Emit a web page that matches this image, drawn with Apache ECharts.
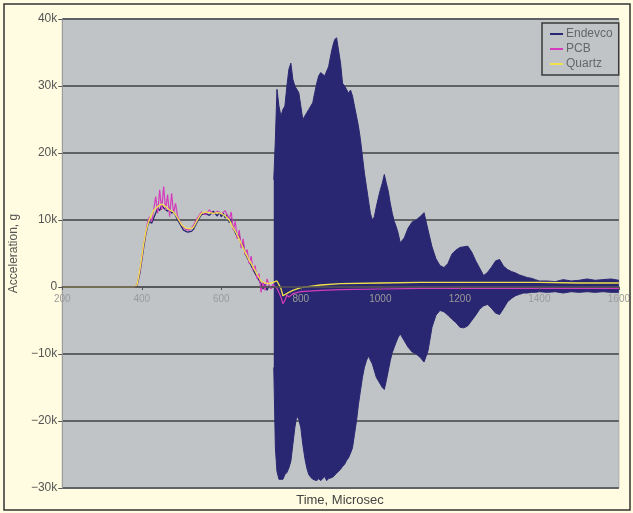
<!DOCTYPE html>
<html>
<head>
<meta charset="utf-8">
<script src="https://cdn.jsdelivr.net/npm/echarts@6/dist/echarts.min.js"></script>
<style>
html,body{margin:0;padding:0;background:#ffffff;}
#chart{width:633px;height:513px;}
</style>
</head>
<body>
<div id="chart"></div>
<script>
// ---- data ----
const xTicks = [200, 400, 600, 800, 1000, 1200, 1400, 1600];
const yTickLabels = {'-30000':'\u221230k','-20000':'\u221220k','-10000':'\u221210k','0':'0','10000':'10k','20000':'20k','30000':'30k','40000':'40k'};
const seriesNames = ['Endevco', 'PCB', 'Quartz'];

// Endevco before the burst (line)
const endevcoPreT = [200,380,388,395,400,405,410,415,420,425,430,435,440,445,450,455,460,465,470,475,480,490,500,505,510,515,520,525,530,540,550,560,570,580,590,595,600,605,610,615,620,625,630,635,640,645,650,655,660,665,670,680,690,700,705,710,715,720,725,730];
const endevcoPre  = [0,0,200,2000,4000,6000,7800,9200,9800,9500,10300,11000,11800,11400,12200,11800,12000,11300,11800,11000,11300,10000,9000,8500,8300,8200,8400,8300,8600,9800,10800,11000,10700,11300,10600,11200,10500,11000,10300,10800,9600,10200,8800,9000,7500,7800,6200,6500,5000,5200,3800,2600,1500,500,-300,400,-500,200,-200,300];

// Endevco burst: upper and lower envelope of the oscillation
const burstT = [732,736,740,745,750,755,760,765,770,775,780,785,790,795,800,805,810,815,820,825,830,835,840,845,850,855,860,865,870,875,880,885,890,895,900,905,910,915,920,925,930,935,940,945,950,955,960,965,970,975,980,985,990,995,1000,1005,1010,1015,1020,1025,1030,1035,1040,1045,1050,
  1060,1070,1080,1090,1100,1110,1120,1130,1140,1150,1160,1170,1180,1190,1200,1210,1220,1230,1240,1250,1260,1270,1280,1290,1300,1310,1320,1330,1340,1350,1360,1370,1380,1390,1400,
  1420,1440,1460,1480,1500,1520,1540,1560,1580,1600];
const endevcoHi = [16000,22000,29500,27000,25500,26500,27000,30000,32500,33400,31000,30000,29500,29000,27000,25000,25500,26000,26500,27000,27500,29000,30400,31500,32000,32200,31500,31400,32900,34500,35900,36900,37200,37000,33400,30400,30000,29500,28900,29400,28500,27000,25500,24000,22000,19500,17000,15000,13000,11000,10000,10500,12000,13300,14500,15500,16800,15500,14300,12500,11000,9800,9000,8000,6600,
  7300,8800,9700,10000,10500,11100,8500,6000,4200,3200,2900,3500,4900,5500,5900,6000,6100,5200,3900,2800,1700,2200,3000,3900,4100,3100,2600,2300,2100,1800,1600,1400,1300,1100,900,
  900,800,1100,900,1000,1200,1000,1100,1200,1000];
const endevcoLo = [-12000,-24000,-27500,-28700,-28500,-28700,-28000,-27700,-27000,-26000,-23500,-21000,-19200,-19800,-21000,-23500,-25500,-27000,-28000,-28400,-28700,-28500,-28900,-28600,-28900,-28700,-28300,-28900,-28600,-28800,-28400,-28200,-27800,-27900,-27200,-26800,-26500,-25900,-25500,-24800,-24000,-22000,-20000,-17500,-15500,-13500,-12000,-11000,-10300,-10500,-11500,-12500,-13500,-14000,-14500,-15000,-15300,-14000,-12500,-11000,-9800,-9000,-8200,-7500,-7000,
  -8000,-9000,-9700,-10000,-10500,-11200,-9500,-6000,-4200,-3500,-3700,-4200,-4800,-5300,-6000,-6100,-5800,-5000,-4200,-3300,-2800,-2600,-3200,-3900,-4100,-3200,-2200,-1700,-1300,-1100,-900,-900,-800,-800,-700,
  -800,-700,-900,-700,-800,-700,-800,-700,-800,-800];

// PCB
const pcbT = [200,380,388,395,400,405,410,415,420,425,430,435,440,445,450,455,460,465,470,475,480,485,490,495,500,510,520,530,540,550,560,570,580,590,600,610,620,625,630,635,640,645,650,655,660,665,670,675,680,685,690,695,700,705,710,715,720,725,730,740,750,755,760,765,770,780,800,850,900,1000,1100,1200,1300,1400,1500,1600];
const pcbV = [0,0,300,2300,4300,6500,8000,9800,10500,9800,11500,13500,11000,14500,11500,15000,11500,13800,10500,14000,11000,12500,10500,10000,9300,8600,8500,9200,10300,11200,10800,11500,10900,11300,10900,11400,10000,11200,8500,9800,7200,8500,5800,7200,4800,5600,3500,4600,2500,3200,1200,2000,-800,800,-500,1200,300,-300,400,-200,-1500,-2500,-2000,-1200,-1500,-1000,-700,-500,-400,-300,-200,-200,-200,-200,-200,-200];

// Quartz
const quartzT = [200,380,388,395,400,405,410,415,420,425,430,440,450,460,470,480,490,500,510,520,530,540,550,560,570,580,590,600,610,620,630,640,650,660,670,680,690,700,710,720,730,740,750,755,760,770,780,800,850,900,1000,1100,1200,1300,1400,1500,1600];
const quartzV = [0,0,300,2500,4500,6500,8200,9300,10200,10800,11500,12000,12400,12000,11500,11200,10300,9300,8800,8700,8900,10000,11000,11200,11100,11000,11100,11000,10600,10000,8800,7800,6500,5200,4000,3000,1900,900,600,500,700,900,-200,-1300,-1500,-800,-500,-100,300,500,600,700,700,700,700,600,600];

// ---- build ----
const zip = (t, v) => t.map((x, i) => [x, v[i]]);
const C_END = '#2a2772', C_PCB = '#d43cbc', C_QTZ = '#f0e24a';

const chart = echarts.init(document.getElementById('chart'), null, {renderer: 'canvas'});
const FONT = '"Liberation Sans", Arial, sans-serif';

chart.setOption({
  animation: false,
  backgroundColor: '#fffce1',
  grid: {left: 57, right: 7, top: 19, bottom: 25, show: true, backgroundColor: '#c1c4c6', borderColor: '#a9acae', borderWidth: 1},
  legend: {
    data: seriesNames,
    orient: 'vertical', left: 542, top: 23,
    padding: [5, 6, 5, 8], itemGap: 3,
    itemWidth: 13, itemHeight: 2, icon: 'rect',
    backgroundColor: '#c1c4c6', borderColor: '#3a3a3a', borderWidth: 1.5,
    textStyle: {fontFamily: FONT, fontSize: 12, color: '#666', padding: [0, 0, 0, -2]}
  },
  xAxis: {
    type: 'value', min: 200, max: 1600, interval: 200, z: 10,
    position: 'bottom', offset: -201,
    axisLine: {onZero: false, lineStyle: {color: '#555', width: 1.5}},
    axisTick: {show: true, length: 3, lineStyle: {color: '#555'}},
    splitLine: {show: false},
    axisLabel: {fontFamily: FONT, fontSize: 10, color: '#9a9a9a', margin: 7, showMinLabel: true, showMaxLabel: true,
      formatter: v => xTicks.includes(v) ? String(v) : ''}
  },
  yAxis: {
    type: 'value', min: -30000, max: 40000, interval: 10000,
    name: 'Acceleration, g', nameLocation: 'middle', nameGap: 40,
    nameTextStyle: {fontFamily: FONT, fontSize: 12, color: '#555'},
    axisLine: {show: true, lineStyle: {color: '#9a9c9e'}},
    axisTick: {show: true, length: 4, lineStyle: {color: '#555'}},
    splitLine: {show: true, lineStyle: {color: '#5f6264', width: 2}},
    axisLabel: {fontFamily: FONT, fontSize: 12, color: '#555', margin: 5,
      formatter: v => yTickLabels[String(v)] || ''}
  },
  graphic: [
    {type: 'rect', shape: {x: 4, y: 4, width: 626, height: 506}, style: {fill: 'none', stroke: '#333', lineWidth: 1.5}, z: 100},
    {type: 'text', x: 340, y: 500, style: {text: 'Time, Microsec', fontFamily: FONT, fontSize: 13, fill: '#444', align: 'center', verticalAlign: 'middle'}}
  ],
  series: [
    {name: 'Endevco', type: 'line', data: zip(endevcoPreT, endevcoPre), showSymbol: false, color: C_END,
      lineStyle: {color: C_END, width: 1.3}, z: 2},
    {name: 'Endevco', type: 'line', data: zip(burstT, endevcoHi), showSymbol: false, color: C_END,
      lineStyle: {color: C_END, width: 1}, areaStyle: {color: C_END, opacity: 1}, z: 2},
    {name: 'Endevco', type: 'line', data: zip(burstT, endevcoLo), showSymbol: false, color: C_END,
      lineStyle: {color: C_END, width: 1}, areaStyle: {color: C_END, opacity: 1}, z: 2},
    {name: 'PCB', type: 'line', data: zip(pcbT, pcbV), showSymbol: false, color: C_PCB,
      lineStyle: {color: C_PCB, width: 1.2}, z: 3},
    {name: 'Quartz', type: 'line', data: zip(quartzT, quartzV), showSymbol: false, color: C_QTZ,
      lineStyle: {color: C_QTZ, width: 1.3}, z: 4}
  ]
});
</script>
</body>
</html>
